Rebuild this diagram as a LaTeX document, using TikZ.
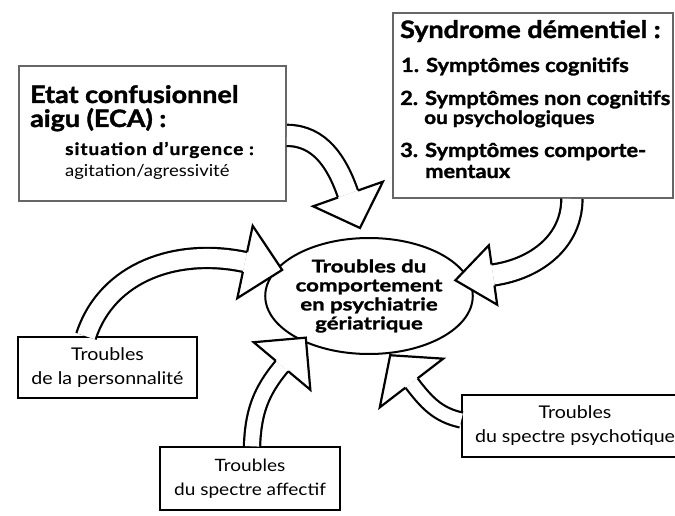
\documentclass[tikz,border=0pt]{standalone}
\usepackage{fontspec}
\setmainfont{Lato}[FakeStretch=1.12, BoldFeatures={FakeBold=1.5}]
\usetikzlibrary{shapes.geometric,calc}
\newcommand{\hollowhead}[5]{%
  \begin{scope}[shift={(#1)}, rotate=#2]
    \draw[headline] (0,-#3) -- (0,-#4) -- (#5,0) -- (0,#4) -- (0,#3);
  \end{scope}}
\begin{document}
\begin{tikzpicture}[x=1pt,y=1pt,
  graybox/.style={draw=black!60, line width=1.8pt, fill=white, inner sep=0pt},
  plainbox/.style={draw=black, line width=1.4pt, fill=white, inner sep=0pt, align=center,
                   font=\fontsize{17.5}{24}\selectfont},
  txt/.style={inner sep=0pt, anchor=base west},
  item/.style={txt, font=\bfseries\fontsize{19.5}{19.5}\selectfont},
  shaft/.style={draw=black, line width=2.2pt, double=white, double distance=#1},
  headline/.style={draw=black, line width=2.2pt, fill=white, line join=miter}]
\useasboundingbox (0,0) rectangle (675,-516);

% boxes
\node[graybox, minimum width=267pt, minimum height=135pt, anchor=north west] (eca) at (18,-65) {};
\node[txt, font=\bfseries\fontsize{24}{24}\selectfont] (ecaA) at (30,-103) {Etat confusionnel};
\node[txt, font=\bfseries\fontsize{24}{24}\selectfont] (ecaB) at (30,-127) {aigu (ECA) :};
\node[txt, font=\bfseries\fontsize{17}{17}\selectfont\addfontfeature{LetterSpace=6}] (ecaC) at (65,-155) {situation d'urgence :};
\node[txt, font=\fontsize{16.5}{16.5}\selectfont] (ecaD) at (65,-176) {agitation/agressivité};

\node[graybox, minimum width=280pt, minimum height=185pt, anchor=north west] (synd) at (392,-12) {};
\node[txt, font=\bfseries\fontsize{24}{24}\selectfont] (sA) at (400,-38) {Syndrome démentiel :};
\node[item] (sB) at (401,-72) {1. Symptômes cognitifs};
\node[item] (sC) at (400,-105) {2. Symptômes non cognitifs};
\node[item, font=\bfseries\fontsize{18.5}{18.5}\selectfont] (sD) at (424,-124) {ou psychologiques};
\node[item] (sE) at (400,-157) {3. Symptômes comporte-};
\node[item] (sF) at (425,-178) {mentaux};

\node[draw=black, line width=2pt, ellipse, minimum width=172pt, minimum height=116pt,
      inner sep=0pt, align=center,
      font=\bfseries\fontsize{17.5}{19}\selectfont\addfontfeature{FakeStretch=1.27}] (ctr) at (369,-296)
      {Troubles du\\comportement\\en psychiatrie\\gériatrique};

\node[plainbox, minimum width=179pt, minimum height=61pt] (pers) at (107.5,-367.5) {Troubles\\de la personnalité};
\node[plainbox, minimum width=180pt, minimum height=63pt, font=\fontsize{17}{24}\selectfont] (aff) at (250,-478.5) {Troubles\\du spectre affectif};
\node[plainbox, minimum width=226pt, minimum height=62pt] (psy) at (575,-426) {Troubles\\du spectre psychotique};

% arrow end coordinates (base of the heads)
\coordinate (b1) at (348,-194);
\coordinate (b2) at (493,-275);
\coordinate (b3) at (245,-262);
\coordinate (b4) at (282,-366);
\coordinate (b5) at (411.5,-383);

% shafts
\draw[shaft=19pt] ([yshift=-2pt]eca.east) to[out=0, in=109] (b1);
\draw[shaft=19pt] ([xshift=39pt]synd.south) to[out=-90, in=8] (b2);
\draw[shaft=18pt] ([xshift=-21.5pt]pers.north) to[out=72, in=168] (b3);
\draw[shaft=14pt] ([xshift=2pt]aff.north) to[out=88, in=230] (b4);
\draw[shaft=13pt] ([yshift=6pt]psy.west) to[out=168, in=-52.5] (b5);

% heads
\hollowhead{b1}{-70.6}{10.6}{37}{36}
\hollowhead{b2}{188}{10.6}{30}{38}
\hollowhead{b3}{-12}{10.1}{37}{38}
\hollowhead{b4}{50}{8.1}{37}{37}
\hollowhead{b5}{127.5}{7.6}{40}{35}
\end{tikzpicture}
\end{document}
